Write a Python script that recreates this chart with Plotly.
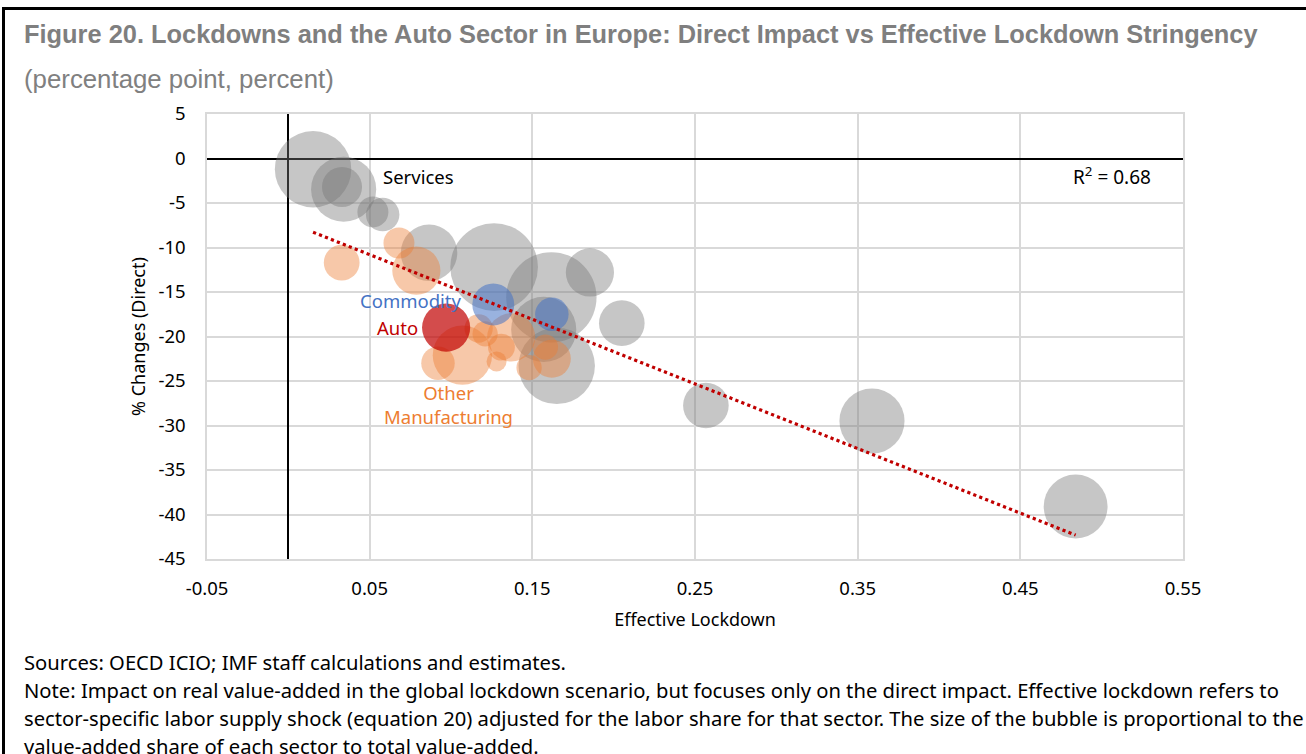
import numpy as np
import plotly.graph_objects as go

# Sector bubbles: effective lockdown (x), direct % change (y), value-added share (bubble area)
services_x = [0.0152, 0.034, 0.033, 0.052, 0.058, 0.0865, 0.1265, 0.1617, 0.1854,
              0.205, 0.157, 0.165, 0.2567, 0.3588, 0.484]
services_y = [-1.2, -3.45, -3.2, -6.0, -6.3, -10.6, -12.2, -15.6, -12.8,
              -18.5, -19.2, -23.3, -27.75, -29.5, -39.1]
services_share = [7.3, 5.3, 2.0, 1.2, 1.4, 4.0, 9.6, 10.2, 2.9,
                  2.6, 5.3, 7.3, 2.6, 5.3, 5.1]

manuf_x = [0.068, 0.0328, 0.0787, 0.117, 0.121, 0.137, 0.131, 0.128, 0.107,
           0.092, 0.148, 0.158, 0.162]
manuf_y = [-9.5, -11.7, -12.6, -19.1, -19.7, -20.1, -21.2, -22.8, -22.1,
           -23.0, -23.5, -21.2, -22.5]
manuf_share = [1.2, 1.6, 2.9, 1.0, 0.8, 2.9, 0.9, 0.5, 4.4,
               1.4, 0.8, 0.8, 1.8]

commodity_x = [0.126, 0.162]
commodity_y = [-16.4, -17.5]
commodity_share = [2.2, 1.4]

auto_x = [0.097]
auto_y = [-19.0]
auto_share = [2.9]

r_squared_label = "R<sup>2</sup> = 0.68"

x_ticks = [-0.05, 0.05, 0.15, 0.25, 0.35, 0.45, 0.55]
x_ticktext = ["-0.05", "0.05", "0.15", "0.25", "0.35", "0.45", "0.55"]
y_ticks = [5, 0, -5, -10, -15, -20, -25, -30, -35, -40, -45]
y_ticktext = ["5", "0", "-5", "-10", "-15", "-20", "-25", "-30", "-35", "-40", "-45"]

title_text = ("Figure 20. Lockdowns and the Auto Sector in Europe: "
              "Direct Impact vs Effective Lockdown Stringency")
subtitle_text = "(percentage point, percent)"
footer_lines = [
    "Sources: OECD ICIO; IMF staff calculations and estimates.",
    "Note: Impact on real value-added in the global lockdown scenario, but focuses only on the direct impact. Effective lockdown refers to",
    "sector-specific labor supply shock (equation 20) adjusted for the labor share for that sector. The size of the bubble is proportional to the",
    "value-added share of each sector to total value-added.",
]

W, H = 1306, 754
L, R, T, B = 207, 123, 114, 195
PW, PH = W - L - R, H - T - B

FONT = "Noto Sans"
SIZEREF = 0.0025


def px_x(p):
    return (p - L) / PW


def px_y(p):
    return (H - B - p) / PH


def bubbles(x, y, share, color):
    return go.Scatter(
        x=x, y=y, mode="markers", hoverinfo="skip", showlegend=False,
        marker=dict(size=share, sizemode="area", sizeref=SIZEREF,
                    color=color, line=dict(width=0)),
    )


fig = go.Figure()
fig.add_trace(bubbles(services_x, services_y, services_share, "rgba(120,120,120,0.6)"))
fig.add_trace(bubbles(manuf_x, manuf_y, manuf_share, "rgba(237,125,49,0.6)"))
fig.add_trace(bubbles(commodity_x, commodity_y, commodity_share, "rgba(68,114,196,0.78)"))
fig.add_trace(bubbles(auto_x, auto_y, auto_share, "rgb(192,0,0)"))

# Linear trend across all sectors
all_x = np.array(services_x + manuf_x + commodity_x + auto_x)
all_y = np.array(services_y + manuf_y + commodity_y + auto_y)
slope, intercept = np.polyfit(all_x, all_y, 1)
trend_x = np.array([all_x.min(), all_x.max()])
fig.add_trace(go.Scatter(
    x=trend_x, y=slope * trend_x + intercept, mode="lines", hoverinfo="skip",
    showlegend=False, line=dict(color="#c00000", width=3.2, dash="dot"),
))

axis_common = dict(
    showgrid=True, gridcolor="#d9d9d9", gridwidth=1.5,
    zeroline=True, zerolinecolor="black", zerolinewidth=1.5,
    showline=True, mirror=True, linecolor="#d9d9d9", linewidth=1.5,
    ticks="", tickfont=dict(family=FONT, size=18.5, color="black"),
    fixedrange=True,
)

fig.update_layout(
    width=W, height=H, autosize=False,
    margin=dict(l=L, r=R, t=T, b=B, pad=0),
    paper_bgcolor="white", plot_bgcolor="white",
    font=dict(family=FONT, color="black"),
    xaxis=dict(range=[-0.05, 0.55], tickmode="array", tickvals=x_ticks,
               ticktext=x_ticktext, ticklabelstandoff=12,
               title=dict(text="Effective Lockdown", font=dict(family=FONT, size=18),
                          standoff=14),
               **axis_common),
    yaxis=dict(range=[-45, 5], tickmode="array", tickvals=y_ticks,
               ticktext=y_ticktext, ticklabelstandoff=16,
               title=dict(text="% Changes (Direct)", font=dict(family=FONT, size=18),
                          standoff=8),
               **axis_common),
)

annotations = [
    dict(x=0.0567, y=-2.0, text="Services", xanchor="left", showarrow=False,
         font=dict(family=FONT, size=18.5, color="black")),
    dict(x=0.5316, y=-2.0, text=r_squared_label, xanchor="right", showarrow=False,
         font=dict(family=FONT, size=19, color="black")),
    dict(x=0.0752, y=-16.0, text="Commodity", showarrow=False,
         font=dict(family=FONT, size=18.5, color="#4472c4")),
    dict(x=0.0672, y=-19.0, text="Auto", showarrow=False,
         font=dict(family=FONT, size=18.5, color="#c00000")),
    dict(x=0.0985, y=-27.6, text="Other<br>Manufacturing", showarrow=False,
         font=dict(family=FONT, size=18.5, color="#ed7d31")),
    dict(xref="paper", yref="paper", x=px_x(22), y=px_y(34), xanchor="left",
         yanchor="middle", text="<b>" + title_text + "</b>", showarrow=False,
         font=dict(family="Liberation Sans", size=25.4, color="#7f7f7f")),
    dict(xref="paper", yref="paper", x=px_x(22), y=px_y(79), xanchor="left",
         yanchor="middle", text=subtitle_text, showarrow=False,
         font=dict(family="Liberation Sans", size=25.8, color="#808080")),
]
for i, line in enumerate(footer_lines):
    annotations.append(dict(
        xref="paper", yref="paper", x=px_x(22), y=px_y(662 + 28 * i),
        xanchor="left", yanchor="middle", text=line, showarrow=False,
        font=dict(family=FONT, size=20.2, color="black")))
fig.update_layout(annotations=annotations)

# Figure frame
fig.add_shape(type="rect", xref="paper", yref="paper",
              x0=px_x(3.5), x1=px_x(W + 10), y0=px_y(8.5), y1=px_y(H + 10),
              line=dict(color="black", width=3), fillcolor="rgba(0,0,0,0)",
              layer="above")

fig.write_html("out.html")
